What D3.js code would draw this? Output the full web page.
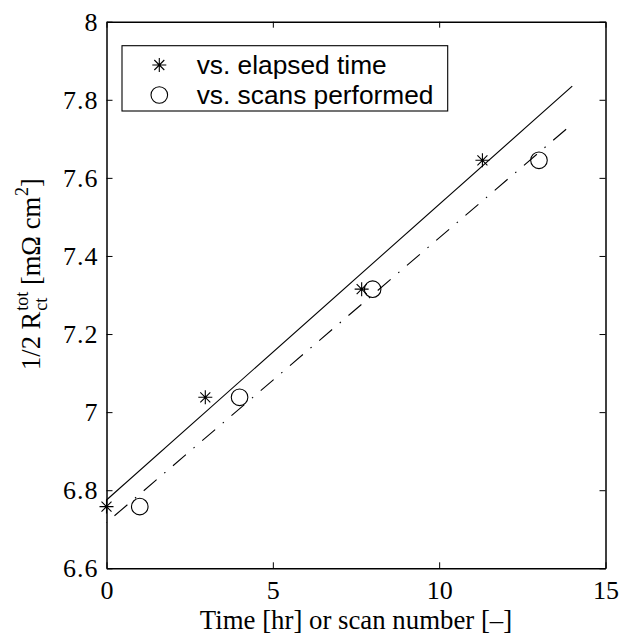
<!DOCTYPE html>
<html><head><meta charset="utf-8">
<script src="https://cdn.jsdelivr.net/npm/d3@7"></script>
<style>body{margin:0;background:#fff}</style>
</head><body>
<script>
const timeX = [0, 2.97, 7.67, 11.3];
const scanX = [1, 4, 8, 13];
const resistance = [6.758, 7.038, 7.315, 7.645];
const fitTimeX = [0, 14];
const fitTimeY = [6.775, 7.835];
const fitScanX = [0, 14];
const fitScanY = [6.717, 7.738];
const xTicks = [0, 5, 10, 15];
const yTicks = [6.6, 6.8, 7, 7.2, 7.4, 7.6, 7.8, 8];
const legendLabels = ["vs. elapsed time", "vs. scans performed"];

const W = 622, H = 639;
const svg = d3.select("body").append("svg").attr("width", W).attr("height", H);
const x = d3.scaleLinear().domain([0, 15]).range([106.5, 605.5]);
const y = d3.scaleLinear().domain([6.6, 8]).range([568.3, 21.7]);
const serif = "'Liberation Serif', 'Times New Roman', serif";
const sans = "'Liberation Sans', Arial, sans-serif";

// axes box
const tickLen = 6;
const gx = svg.append("g").attr("transform", `translate(0,${y(6.6)})`)
  .call(d3.axisBottom(x).tickValues(xTicks).tickSizeInner(-tickLen).tickSizeOuter(0).tickPadding(12).tickFormat(d3.format("d")));
const gxt = svg.append("g").attr("transform", `translate(0,${y(8)})`)
  .call(d3.axisTop(x).tickValues(xTicks).tickSizeInner(-tickLen).tickSizeOuter(0).tickFormat(""));
const gy = svg.append("g").attr("transform", `translate(${x(0)},0)`)
  .call(d3.axisLeft(y).tickValues(yTicks).tickSizeInner(-tickLen).tickSizeOuter(0).tickPadding(8).tickFormat(d => d3.format("")(d)));
const gyr = svg.append("g").attr("transform", `translate(${x(15)},0)`)
  .call(d3.axisRight(y).tickValues(yTicks).tickSizeInner(-tickLen).tickSizeOuter(0).tickFormat(""));
[gx, gxt, gy, gyr].forEach(g => {
  g.select(".domain").attr("stroke", "#000").attr("stroke-width", 1.5);
  g.selectAll(".tick line").attr("stroke", "#000").attr("stroke-width", 1);
  g.selectAll("text").attr("font-family", serif).attr("font-size", 26).attr("fill", "#000");
});
gx.selectAll("text").attr("dy", "0.71em");
gy.selectAll("text").attr("letter-spacing", 1);

// fit lines
const line = d3.line().x(d => x(d[0])).y(d => y(d[1]));
svg.append("path").datum(fitTimeX.map((v, i) => [v, fitTimeY[i]]))
  .attr("d", line).attr("fill", "none").attr("stroke", "#000").attr("stroke-width", 1.1);
svg.append("path").datum(fitScanX.map((v, i) => [v, fitScanY[i]]))
  .attr("d", line).attr("fill", "none").attr("stroke", "#000").attr("stroke-width", 1.1)
  .attr("stroke-dasharray", "17,10,1.5,10").attr("stroke-dashoffset", 28);

// markers
function star(g, cx, cy) {
  const a = 7, b = 5;
  const p = `M${cx - a},${cy}L${cx + a},${cy}M${cx},${cy - a}L${cx},${cy + a}M${cx - b},${cy - b}L${cx + b},${cy + b}M${cx - b},${cy + b}L${cx + b},${cy - b}`;
  g.append("path").attr("d", p).attr("stroke", "#000").attr("stroke-width", 1.1).attr("fill", "none");
}
function circ(g, cx, cy) {
  g.append("circle").attr("cx", cx).attr("cy", cy).attr("r", 8.3)
    .attr("fill", "none").attr("stroke", "#000").attr("stroke-width", 1.1);
}
const mk = svg.append("g");
timeX.forEach((v, i) => star(mk, x(v), y(resistance[i])));
scanX.forEach((v, i) => circ(mk, x(v), y(resistance[i])));

// legend
const lg = svg.append("g");
lg.append("rect").attr("x", 122).attr("y", 45.7).attr("width", 325.7).attr("height", 65.3)
  .attr("fill", "#fff").attr("stroke", "#000").attr("stroke-width", 1.1);
star(lg, 159.3, 65);
circ(lg, 159.3, 95);
legendLabels.forEach((t, i) => {
  lg.append("text").attr("x", 196.7).attr("y", 65 + 30 * i).attr("dy", "0.36em")
    .attr("font-family", sans).attr("font-size", 26.3).attr("fill", "#000").text(t);
});

// x label
svg.append("text").attr("x", 356).attr("y", 629).attr("text-anchor", "middle")
  .attr("font-family", serif).attr("font-size", 26.8).attr("fill", "#000")
  .text("Time [hr] or scan number [\u2013]");

// y label with stacked super/subscript
const yl = svg.append("g");
const fs = 26.5, fss = 18;
function piece(txt, px, dy, size) {
  const t = yl.append("text").attr("x", px).attr("y", dy).attr("font-family", serif)
    .attr("font-size", size).attr("fill", "#000").text(txt);
  return t.node().getComputedTextLength();
}
let cx = 0;
cx += piece("1/2 R", cx, 0, fs);
const wSup = piece("tot", cx + 1, -12, fss);
const wSub = piece("ct", cx + 1, 7, fss);
cx += Math.max(wSup, wSub) + 1;
cx += piece("\u00a0[m\u03a9\u00a0cm", cx, 0, fs);
cx += piece("2", cx + 1, -12, fss) + 1;
cx += piece("]", cx, 0, fs);
yl.attr("transform", `translate(39.5,${274 + cx / 2}) rotate(-90)`);
</script>
</body></html>
